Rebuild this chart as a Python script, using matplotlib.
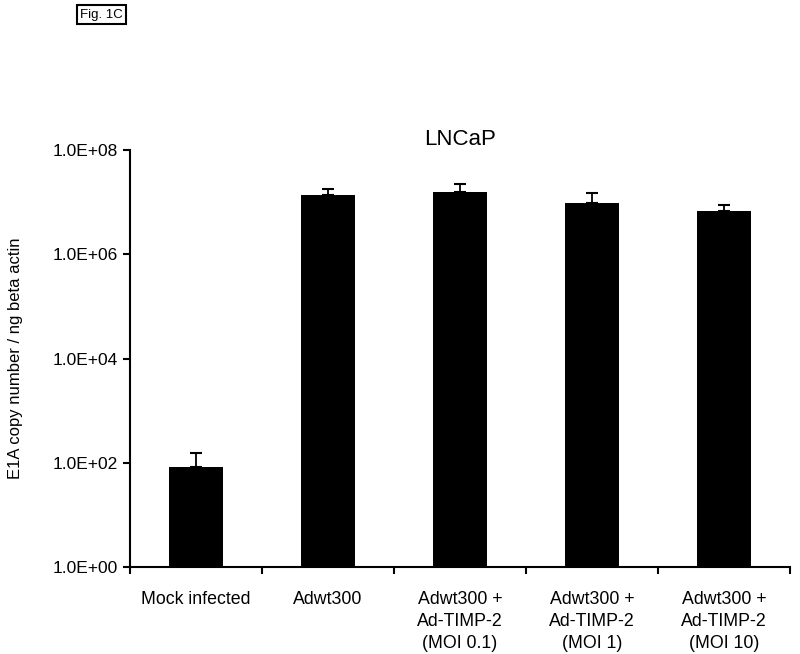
import matplotlib
matplotlib.use("Agg")
import matplotlib.pyplot as plt
from matplotlib.ticker import FixedLocator, NullLocator
import numpy as np

plt.rcParams['font.family'] = ['Liberation Sans', 'DejaVu Sans']

categories = ["Mock infected", "Adwt300", "Adwt300 +\nAd-TIMP-2\n(MOI 0.1)",
              "Adwt300 +\nAd-TIMP-2\n(MOI 1)", "Adwt300 +\nAd-TIMP-2\n(MOI 10)"]
values = [83, 1.36e7, 1.55e7, 9.6e6, 6.7e6]
errors_up = [72, 0.42e7, 0.67e7, 0.53e7, 2.1e6]
ytick_vals = [1e0, 1e2, 1e4, 1e6, 1e8]
ytick_labels = ["1.0E+00", "1.0E+02", "1.0E+04", "1.0E+06", "1.0E+08"]

fig = plt.figure(figsize=(8, 6.54), dpi=100)
ax = fig.add_axes([0.1625, 0.133, 0.825, 0.6376])
x = np.arange(len(categories))
ax.bar(x, values, width=0.41, color="black", zorder=2)
ax.errorbar(x, values, yerr=[np.zeros(len(values)), errors_up], fmt="none",
            ecolor="black", elinewidth=1.3, capsize=4.5, capthick=1.5, zorder=1)
ax.set_yscale("log")
ax.set_ylim(1, 1e8)
ax.set_xlim(-0.5, len(categories) - 0.5)
ax.yaxis.set_major_locator(FixedLocator(ytick_vals))
ax.yaxis.set_minor_locator(NullLocator())
ax.set_yticklabels(ytick_labels, fontsize=12.5)
ax.set_xticks(np.arange(len(categories) + 1) - 0.5)
ax.set_xticklabels([])
ax.set_xticks(x, minor=True)
ax.set_xticklabels(categories, minor=True, fontsize=12.8, va="top", ha="center", linespacing=1.4)
ax.tick_params(axis="x", which="minor", length=0, pad=17)
ax.tick_params(axis="x", which="major", direction="out", length=5, width=1.5)
ax.tick_params(axis="y", which="major", direction="out", length=5, width=1.5, pad=4)
for s in ["top", "right"]:
    ax.spines[s].set_visible(False)
for s in ["left", "bottom"]:
    ax.spines[s].set_linewidth(1.5)
ax.set_ylabel("E1A copy number / ng beta actin", fontsize=12, labelpad=21)
ax.set_title("LNCaP", fontsize=16, pad=2)

fig.text(0.1, 0.987, "Fig. 1C", fontsize=9.5, ha="left", va="top",
         bbox=dict(boxstyle="square,pad=0.25", facecolor="white", edgecolor="black", linewidth=1.5))

fig.savefig("out.png", dpi=100)
